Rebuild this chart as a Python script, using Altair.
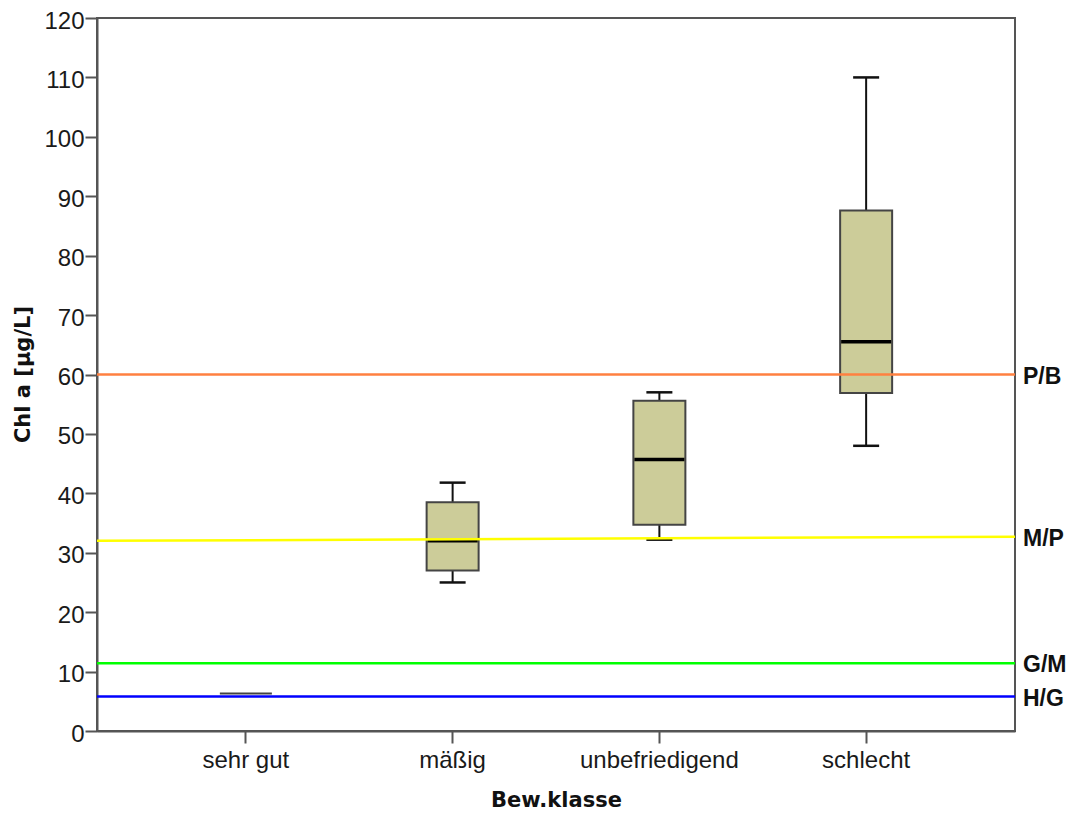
import altair as alt
import pandas as pd

# Box plot statistics per class
categories = ["sehr gut", "mäßig", "unbefriedigend", "schlecht"]
whisker_low = [6.3, 25.0, 32.2, 48.0]
q1 = [6.3, 27.0, 34.7, 56.9]
median = [6.3, 32.0, 45.7, 65.5]
q3 = [6.3, 38.5, 55.6, 87.6]
whisker_high = [6.3, 41.8, 57.0, 110.0]

# Class boundary lines
bound_labels = ["P/B", "M/P", "G/M", "H/G"]
bound_start = [60.0, 32.0, 11.4, 5.8]
bound_end = [60.0, 32.7, 11.4, 5.8]
bound_colors = ["#ff8040", "#ffff00", "#00ff00", "#0000ff"]

y_ticks = list(range(0, 121, 10))

W, H = 918, 713
LFONT = "Liberation Sans"
TFONT = "DejaVu Sans"

box_df = pd.DataFrame({
    "klasse": categories,
    "lo": whisker_low,
    "q1": q1,
    "med": median,
    "q3": q3,
    "hi": whisker_high,
})
bound_df = pd.DataFrame({
    "label": bound_labels,
    "start": bound_start,
    "end": bound_end,
})

xscale = alt.Scale(domain=categories, paddingInner=0, paddingOuter=0.22)
yscale = alt.Scale(domain=[0, 120], nice=False, zero=True)

x_enc = alt.X(
    "klasse:N", scale=xscale, sort=categories,
    axis=alt.Axis(
        title="Bew.klasse", labelAngle=0, tickSize=12, labelPadding=5,
        labelFontSize=24, labelFont=LFONT, labelColor="#1a1a1a",
        titleFont=TFONT, titleFontSize=21, titleFontWeight="bold",
        titleColor="#111", titleY=75, titleBaseline="alphabetic",
        domainColor="#555", domainWidth=2, tickColor="#555", tickWidth=2,
        grid=False,
    ),
)

y_axis = alt.Axis(
    title="Chl a [µg/L]", values=y_ticks, tickSize=12, labelPadding=1,
    labelOffset=3,
    labelFontSize=24, labelFont=LFONT, labelColor="#1a1a1a",
    titleFont=TFONT, titleFontSize=21, titleFontWeight="bold", titleColor="#111",
    titleAngle=-90, titleX=-74, titleY=356, titleAlign="center",
    titleBaseline="middle",
    domainColor="#555", domainWidth=2, tickColor="#555", tickWidth=2,
    grid=False,
)

base = alt.Chart(box_df)

whisk_lo = base.mark_rule(color="#111", strokeWidth=2).encode(
    x=x_enc, y=alt.Y("lo:Q", scale=yscale, axis=y_axis), y2="q1:Q"
)
whisk_hi = base.mark_rule(color="#111", strokeWidth=2).encode(
    x="klasse:N", y="q3:Q", y2="hi:Q"
)
cap_lo = base.transform_filter("datum.hi > datum.lo").mark_tick(
    color="#111", thickness=2.5, size=26, orient="horizontal", opacity=1
).encode(x="klasse:N", y="lo:Q")
cap_hi = base.transform_filter("datum.hi > datum.lo").mark_tick(
    color="#111", thickness=2.5, size=26, orient="horizontal", opacity=1
).encode(x="klasse:N", y="hi:Q")
box = base.mark_bar(
    size=52, color="#cccc99", stroke="#444", strokeWidth=2, opacity=1
).encode(x="klasse:N", y="q1:Q", y2="q3:Q")
med = base.transform_filter("datum.q3 > datum.q1").mark_tick(
    color="#000", thickness=3.5, size=50, orient="horizontal", opacity=1
).encode(x="klasse:N", y="med:Q")

color_scale = alt.Scale(domain=bound_labels, range=bound_colors)

bounds = alt.Chart(bound_df).mark_rule(strokeWidth=2.5).encode(
    x=alt.value(0), x2=alt.value(W),
    y="start:Q", y2="end:Q",
    color=alt.Color("label:N", scale=color_scale, legend=None),
)
bound_text = alt.Chart(bound_df).mark_text(
    align="left", baseline="middle", font=LFONT, fontSize=23,
    fontWeight="bold", color="#111", dx=0, dy=2
).encode(
    x=alt.value(W + 8), y="end:Q", text="label:N"
)

chart = alt.layer(
    whisk_lo, whisk_hi, cap_lo, cap_hi, box, med, bounds, bound_text
).properties(
    width=W, height=H,
    autosize=alt.AutoSizeParams(type="none"),
    padding={"left": 89, "top": 10, "right": 51, "bottom": 80},
    background="white",
).configure_view(
    stroke="#555", strokeWidth=2
)

chart.save("out.html", embed_options={"renderer": "svg", "actions": False})
